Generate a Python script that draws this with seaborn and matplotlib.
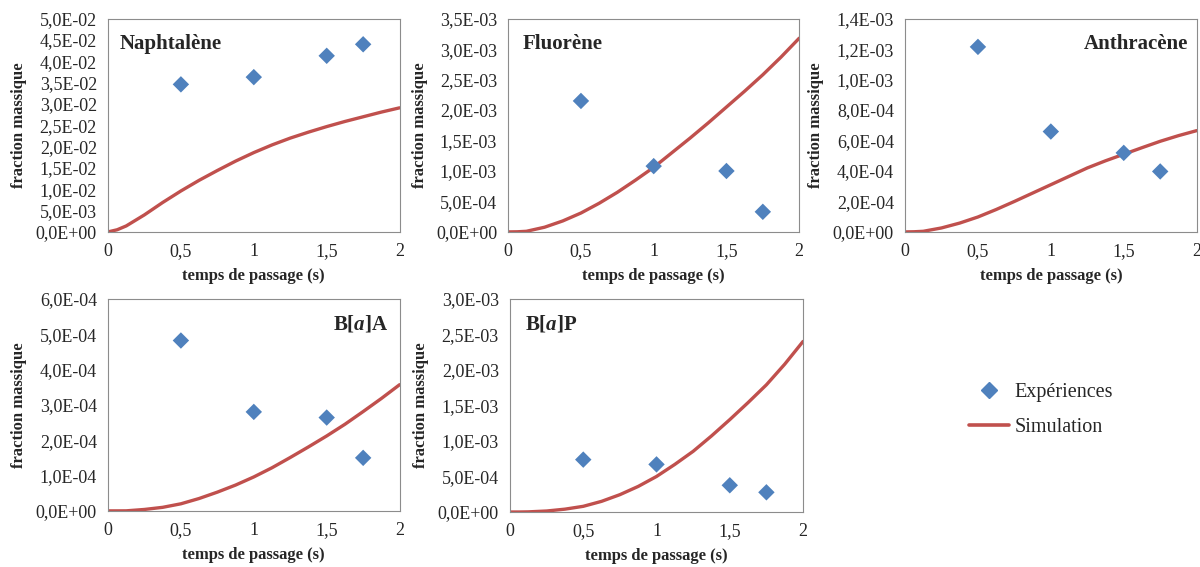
import numpy as np
import pandas as pd
import matplotlib
matplotlib.use("Agg")
import matplotlib.pyplot as plt
from matplotlib.ticker import FuncFormatter, MultipleLocator
from matplotlib.lines import Line2D
import seaborn as sns

# experimental points (temps de passage, s)
t_exp = [0.5, 1.0, 1.5, 1.75]
naph_exp = [3.46e-2, 3.63e-2, 4.13e-2, 4.40e-2]
fluo_exp = [2.15e-3, 1.08e-3, 1.00e-3, 0.33e-3]
anth_exp = [1.215e-3, 0.659e-3, 0.519e-3, 0.397e-3]
baa_exp = [4.82e-4, 2.80e-4, 2.64e-4, 1.50e-4]
bap_exp = [0.737e-3, 0.67e-3, 0.376e-3, 0.277e-3]

# simulation curves
t_sim = [0, 0.0625, 0.125, 0.25, 0.375, 0.5, 0.625, 0.75, 0.875, 1.0,
         1.125, 1.25, 1.375, 1.5, 1.625, 1.75, 1.875, 2.0]
naph_sim = [0, 0.5e-3, 1.4e-3, 4.0e-3, 6.9e-3, 9.6e-3, 12.1e-3, 14.4e-3, 16.6e-3, 18.6e-3,
            20.4e-3, 22.0e-3, 23.4e-3, 24.7e-3, 25.9e-3, 27.0e-3, 28.1e-3, 29.1e-3]
fluo_sim = [0, 0.002e-3, 0.01e-3, 0.077e-3, 0.18e-3, 0.31e-3, 0.47e-3, 0.65e-3, 0.85e-3, 1.06e-3,
            1.30e-3, 1.54e-3, 1.79e-3, 2.05e-3, 2.31e-3, 2.58e-3, 2.87e-3, 3.18e-3]
anth_sim = [0, 0.001e-3, 0.004e-3, 0.026e-3, 0.058e-3, 0.098e-3, 0.147e-3, 0.20e-3, 0.255e-3, 0.31e-3,
            0.365e-3, 0.42e-3, 0.467e-3, 0.51e-3, 0.553e-3, 0.595e-3, 0.632e-3, 0.665e-3]
baa_sim = [0, 0.0e-4, 0.001e-4, 0.04e-4, 0.10e-4, 0.20e-4, 0.35e-4, 0.53e-4, 0.73e-4, 0.96e-4,
           1.22e-4, 1.51e-4, 1.81e-4, 2.12e-4, 2.45e-4, 2.81e-4, 3.18e-4, 3.57e-4]
bap_sim = [0, 0.0e-3, 0.002e-3, 0.014e-3, 0.04e-3, 0.08e-3, 0.15e-3, 0.244e-3, 0.36e-3, 0.50e-3,
           0.67e-3, 0.854e-3, 1.07e-3, 1.30e-3, 1.54e-3, 1.79e-3, 2.08e-3, 2.40e-3]

names = ["Naphtalène", "Fluorène", "Anthracène", r"B[$\mathbfit{a}$]A", r"B[$\mathbfit{a}$]P"]
y_max = [5.0e-2, 3.5e-3, 1.4e-3, 6.0e-4, 3.0e-3]
y_step = [5.0e-3, 5.0e-4, 2.0e-4, 1.0e-4, 5.0e-4]

sns.set_style("white")
plt.rcParams["font.family"] = ["Liberation Serif", "DejaVu Serif"]
plt.rcParams["mathtext.fontset"] = "custom"
plt.rcParams["mathtext.rm"] = "Liberation Serif"
plt.rcParams["mathtext.bfit"] = "Liberation Serif:italic:bold"

blue = "#4F81BD"
red = "#C0504D"
grey = "#8C8C8C"

fig = plt.figure(figsize=(12, 5.67), dpi=100)
boxes = [
    [0.090, 0.591, 0.243, 0.376],
    [0.4235, 0.591, 0.2425, 0.376],
    [0.7542, 0.591, 0.2430, 0.376],
    [0.090, 0.099, 0.243, 0.374],
    [0.425, 0.097, 0.2442, 0.376],
]
title_pos = [(0.04, "left"), (0.05, "left"), (0.97, "right"), (0.96, "right"), (0.05, "left")]

exp_sets = [naph_exp, fluo_exp, anth_exp, baa_exp, bap_exp]
sim_sets = [naph_sim, fluo_sim, anth_sim, baa_sim, bap_sim]

sci = FuncFormatter(lambda v, p: f"{v:.1E}".replace(".", ","))
dec = FuncFormatter(lambda v, p: f"{v:g}".replace(".", ","))

for i in range(5):
    ax = fig.add_axes(boxes[i])
    sim = pd.DataFrame({"t": t_sim, "y": sim_sets[i]})
    exp = pd.DataFrame({"t": t_exp, "y": exp_sets[i]})
    sns.lineplot(data=sim, x="t", y="y", ax=ax, color=red, linewidth=2.4, zorder=2)
    sns.scatterplot(data=exp, x="t", y="y", ax=ax, color=blue, marker="D", s=70,
                    edgecolor="none", zorder=3)
    ax.set_xlim(0, 2)
    ax.set_ylim(0, y_max[i])
    ax.xaxis.set_major_locator(MultipleLocator(0.5))
    ax.yaxis.set_major_locator(MultipleLocator(y_step[i]))
    ax.xaxis.set_major_formatter(dec)
    ax.yaxis.set_major_formatter(sci)
    ax.tick_params(axis="both", labelsize=13, direction="out", length=4, width=0.8,
                   color=grey, pad=4)
    for s in ax.spines.values():
        s.set_color(grey)
        s.set_linewidth(0.8)
    ax.set_xlabel("temps de passage (s)", fontsize=12, fontweight="bold", labelpad=6)
    ax.set_ylabel("fraction massique", fontsize=12, fontweight="bold", labelpad=6)
    xpos, ha = title_pos[i]
    ax.text(xpos, 0.88, names[i], transform=ax.transAxes, ha=ha, va="center",
            fontsize=15, fontweight="bold")

handles = [
    Line2D([], [], marker="D", color=blue, linestyle="none", markersize=8),
    Line2D([], [], color=red, linewidth=2.6),
]
fig.legend(handles, ["Expériences", "Simulation"], loc="center left",
           bbox_to_anchor=(0.792, 0.277), frameon=False, fontsize=14.5,
           handlelength=2.0, labelspacing=0.75, handletextpad=0.3)

fig.savefig("out.png", dpi=100)
